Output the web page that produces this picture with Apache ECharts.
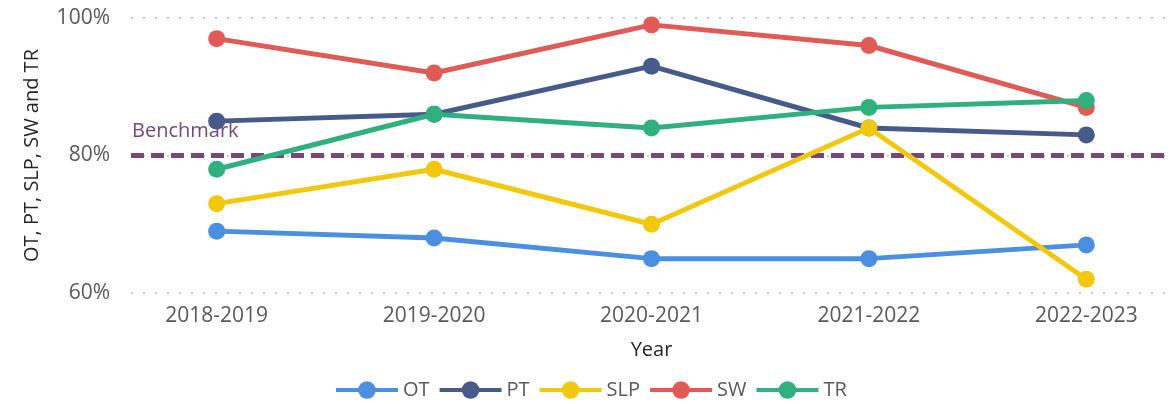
<!DOCTYPE html>
<html>
<head>
<meta charset="utf-8">
<script src="https://cdn.jsdelivr.net/npm/echarts@6/dist/echarts.min.js"></script>
<style>
  html, body { margin: 0; padding: 0; background: #fff; }
  #chart { width: 1170px; height: 404px; }
</style>
</head>
<body>
<div id="chart"></div>
<script>
// Data
const years = ["2018-2019", "2019-2020", "2020-2021", "2021-2022", "2022-2023"];
const otValues = [69, 68, 65, 65, 67];
const ptValues = [85, 86, 93, 84, 83];
const slpValues = [73, 78, 70, 84, 62];
const swValues = [97, 92, 99, 96, 87];
const trValues = [78, 86, 84, 87, 88];
const benchmark = 80;

const seriesNames = ["OT", "PT", "SLP", "SW", "TR"];
const seriesValues = [otValues, ptValues, slpValues, swValues, trValues];
const colors = ["#4a8fe0", "#475b8b", "#f2c80f", "#e05b56", "#31b07f"];

const font = "'Open Sans', 'Noto Sans', sans-serif";

const chart = echarts.init(document.getElementById("chart"));

const lineSeries = seriesNames.map((name, i) => ({
  name: name,
  type: "line",
  xAxisIndex: 1,
  yAxisIndex: 1,
  data: seriesValues[i],
  symbol: "circle",
  symbolSize: 17,
  color: colors[i],
  lineStyle: { width: 5, color: colors[i] },
  itemStyle: { color: colors[i] },
  z: 3 + i
}));

const options = {
  animation: false,
  textStyle: { fontFamily: font },
  grid: [
    // grid with gridlines, y labels and benchmark
    { left: 131, right: 5, top: 18, bottom: 111, outerBoundsMode: "none" },
    // grid holding the category series (wider, so points sit where the reference has them)
    { left: 108, width: 1087, top: 18, bottom: 111, outerBoundsMode: "none" }
  ],
  xAxis: [
    { type: "value", gridIndex: 0, min: 0, max: 1, show: false },
    {
      type: "category",
      gridIndex: 1,
      data: years,
      axisLine: { show: false },
      axisTick: { show: false },
      axisLabel: { color: "#595959", fontSize: 21, margin: 13, fontFamily: font },
      name: "Year",
      nameLocation: "middle",
      nameGap: 47,
      nameTextStyle: { color: "#252525", fontSize: 20, fontFamily: font }
    }
  ],
  yAxis: [
    {
      type: "value",
      gridIndex: 0,
      min: 60,
      max: 100,
      interval: 20,
      axisLine: { show: false },
      axisTick: { show: false },
      axisLabel: {
        color: "#595959",
        fontSize: 21,
        margin: 21,
        fontFamily: font,
        formatter: (v) => v + "%"
      },
      splitLine: {
        show: true,
        lineStyle: { color: "#c8c8c8", width: 2, type: [2, 10] }
      },
      name: "OT, PT, SLP, SW and TR",
      nameLocation: "middle",
      nameGap: 89,
      nameTextStyle: { color: "#252525", fontSize: 20, fontFamily: font }
    },
    { type: "value", gridIndex: 1, min: 60, max: 100, show: false }
  ],
  legend: {
    data: seriesNames,
    bottom: 4,
    left: 334,
    padding: 0,
    itemWidth: 62,
    itemHeight: 22,
    itemGap: 8,
    lineStyle: { width: 4 },
    textStyle: { color: "#595959", fontSize: 20, fontFamily: font }
  },
  series: [
    {
      name: "Benchmark",
      type: "line",
      xAxisIndex: 0,
      yAxisIndex: 0,
      data: [],
      markLine: {
        silent: true,
        symbol: ["none", "none"],
        lineStyle: { color: "#76487a", width: 5, type: [13, 7] },
        label: {
          show: true,
          position: "insideStartTop",
          formatter: "Benchmark",
          color: "#76487a",
          fontSize: 20,
          fontFamily: font,
          distance: [1, 14]
        },
        data: [{ yAxis: benchmark }]
      },
      z: 2
    }
  ].concat(lineSeries)
};

chart.setOption(options);
</script>
</body>
</html>
